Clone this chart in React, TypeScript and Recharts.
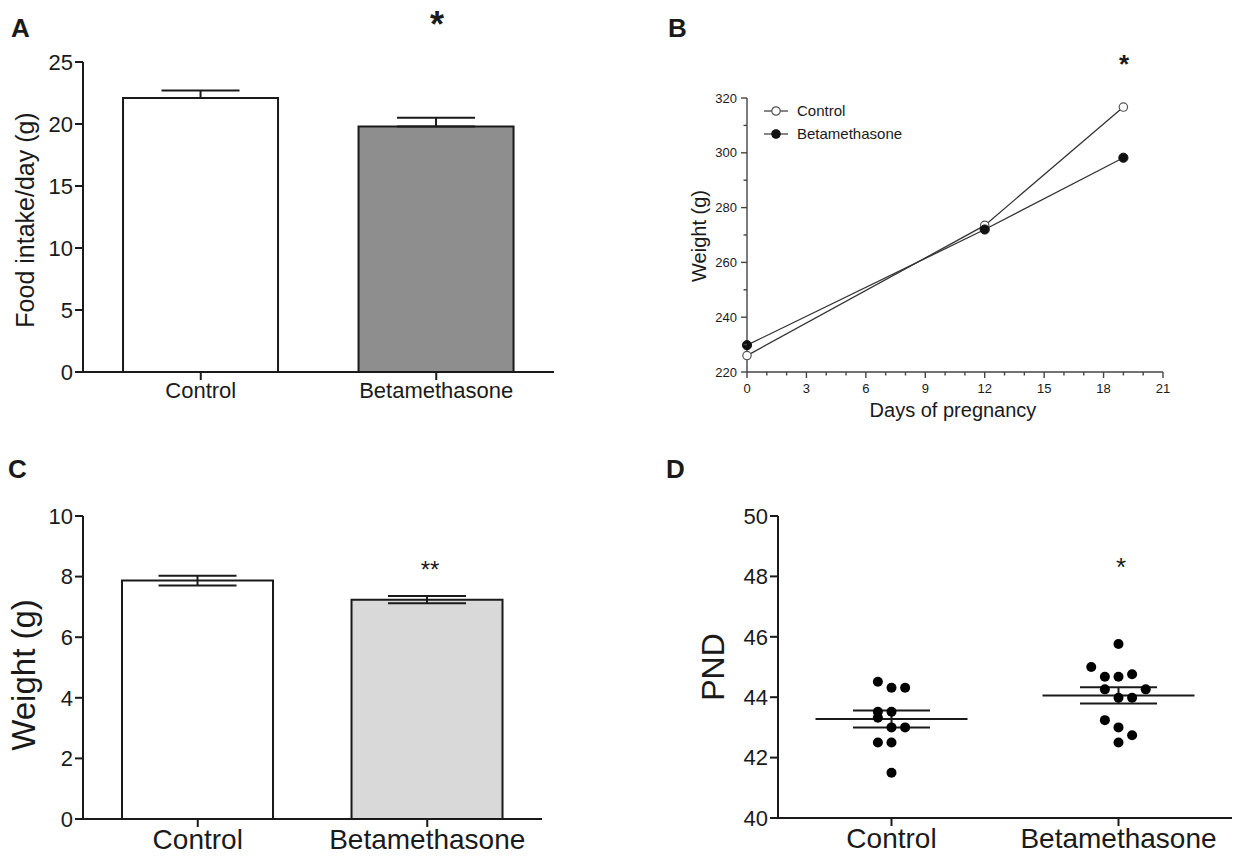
import React from 'react';
import {
  BarChart, Bar, Cell, XAxis, YAxis, ErrorBar,
  LineChart, Line, ScatterChart, Scatter, Legend,
} from 'recharts';

const FONT = '"Liberation Sans", Arial, Helvetica, sans-serif';
const INK = '#1a1a1a';

// ---------- shared ----------
const groups = ['Control', 'Betamethasone'];

// ---------- Panel A : food intake ----------
const foodMean = [22.1, 19.8];
const foodSem = [0.6, 0.7];
const foodFill = ['#ffffff', '#8e8e8e'];
const foodTicks = [0, 5, 10, 15, 20, 25];

// ---------- Panel B : maternal weight ----------
const days = [0, 12, 19];
const bodyControl = [226, 273.5, 316.7];
const bodyBeta = [229.8, 272, 298.2];
const dayTicks = [0, 1, 2, 3, 4, 5, 6, 7, 8, 9, 10, 11, 12, 13, 14, 15, 16, 17, 18, 19, 20, 21];
const dayLabels = [0, 3, 6, 9, 12, 15, 18, 21];
const bodyTicks = [220, 230, 240, 250, 260, 270, 280, 290, 300, 310, 320];
const bodyLabels = [220, 240, 260, 280, 300, 320];
const bSeries = [
  { key: 'control', name: 'Control', fill: '#ffffff', stroke: '#555555' },
  { key: 'beta', name: 'Betamethasone', fill: '#111111', stroke: '#111111' },
];

// ---------- Panel C : pup weight ----------
const pupMean = [7.87, 7.24];
const pupSem = [0.16, 0.12];
const pupFill = ['#ffffff', '#d9d9d9'];
const pupTicks = [0, 2, 4, 6, 8, 10];

// ---------- Panel D : PND ----------
const pndControl = [44.51, 44.31, 44.31, 43.52, 43.52, 43.32, 43.0, 43.0, 42.5, 42.5, 41.5];
const pndControlDx = [-0.06, 0, 0.06, -0.06, 0, -0.06, 0, 0.06, -0.06, 0, 0];
const pndBeta = [45.76, 45.0, 44.68, 44.68, 44.76, 44.26, 44.26, 43.98, 43.98, 43.24, 43.0, 42.74, 42.5];
const pndBetaDx = [0, -0.12, -0.06, 0, 0.06, -0.06, 0.12, 0, 0.06, -0.06, 0, 0.06, 0];
const pndMean = [43.28, 44.06];
const pndSem = [0.28, 0.27];
const pndTicks = [40, 42, 44, 46, 48, 50];

// ---------- derived tables ----------
const foodData = groups.map((g, i) => ({ name: g, value: foodMean[i], err: [0, foodSem[i]] }));
const bodyData = days.map((d, i) => ({ day: d, control: bodyControl[i], beta: bodyBeta[i] }));
const pupData = groups.map((g, i) => ({ name: g, value: pupMean[i], err: pupSem[i] }));
const pndControlData = pndControl.map((v, i) => ({ x: 1 + pndControlDx[i], y: v }));
const pndBetaData = pndBeta.map((v, i) => ({ x: 2 + pndBetaDx[i], y: v }));
const pndMeanData = pndMean.map((v, i) => ({ x: i + 1, y: v, err: pndSem[i] }));

const axisLine = { stroke: INK, strokeWidth: 2 };
const tickLine = { stroke: INK, strokeWidth: 2 };

const BTickX = (p: any) => {
  const v = p.payload.value;
  const major = dayLabels.includes(v);
  return (
    <g>
      <line x1={p.x} y1={p.y} x2={p.x} y2={p.y + (major ? 6 : 3.5)} stroke="#444" strokeWidth={1.4} />
      {major && (
        <text x={p.x} y={p.y + 21} textAnchor="middle" fontSize={13} fill={INK}>{v}</text>
      )}
    </g>
  );
};

const BTickY = (p: any) => {
  const v = p.payload.value;
  const major = bodyLabels.includes(v);
  return (
    <g>
      <line x1={p.x} y1={p.y} x2={p.x - (major ? 6 : 3.5)} y2={p.y} stroke="#444" strokeWidth={1.4} />
      {major && (
        <text x={p.x - 10} y={p.y + 4.5} textAnchor="end" fontSize={13} fill={INK}>{v}</text>
      )}
    </g>
  );
};

const LegendB = () => (
  <div style={{ fontFamily: FONT, fontSize: 15, color: INK }}>
    {bSeries.map((s) => (
      <div key={s.key} style={{ display: 'flex', alignItems: 'center', height: 23 }}>
        <svg width={24} height={12} style={{ display: 'block' }}>
          <line x1={0} y1={6} x2={24} y2={6} stroke="#444" strokeWidth={1.3} />
          <circle cx={12} cy={6} r={4.2} fill={s.fill} stroke={s.stroke} strokeWidth={1.2} />
        </svg>
        <span style={{ marginLeft: 9 }}>{s.name}</span>
      </div>
    ))}
  </div>
);

const Dot = (p: any) => <circle cx={p.cx} cy={p.cy} r={5} fill="#000" />;
const MeanLine = (p: any) => (
  <line x1={p.cx - 76} y1={p.cy} x2={p.cx + 76} y2={p.cy} stroke={INK} strokeWidth={2} />
);

const rotLabel = (x: number, y: number, size: number, text: string) => (
  <text
    transform={`translate(${x},${y}) rotate(-90)`}
    textAnchor="middle"
    dy="0.35em"
    fontSize={size}
    fill={INK}
  >
    {text}
  </text>
);

export default function App() {
  return (
    <div
      style={{
        position: 'absolute', left: 0, top: 0, width: 1234, height: 862,
        background: '#ffffff', fontFamily: FONT, overflow: 'hidden',
      }}
    >
      {/* Panel A */}
      <div style={{ position: 'absolute', left: 0, top: 0 }}>
        <BarChart width={570} height={430} data={foodData} barCategoryGap="17%"
          margin={{ top: 62, right: 16, bottom: 8, left: 0 }}>
          <XAxis dataKey="name" height={50} tickSize={8} interval={0}
            axisLine={axisLine} tickLine={tickLine} tick={{ fontSize: 22, fill: INK }} />
          <YAxis width={83} domain={[0, 25]} ticks={foodTicks} interval={0} tickSize={8}
            axisLine={axisLine} tickLine={tickLine} tick={{ fontSize: 22, fill: INK }} />
          <Bar dataKey="value" stroke={INK} strokeWidth={2} isAnimationActive={false}>
            {foodData.map((d, i) => <Cell key={d.name} fill={foodFill[i]} />)}
            <ErrorBar dataKey="err" direction="y" width={39} stroke={INK} strokeWidth={2} />
          </Bar>
        </BarChart>
      </div>

      {/* Panel B */}
      <div style={{ position: 'absolute', left: 640, top: 0 }}>
        <LineChart width={594} height={430} data={bodyData}
          margin={{ top: 98, right: 71, bottom: 8, left: 0 }}>
          <XAxis dataKey="day" type="number" domain={[0, 21]} ticks={dayTicks} interval={0}
            height={50} tickSize={0} tickMargin={0} tickLine={false}
            axisLine={{ stroke: '#444', strokeWidth: 1.4 }} tick={BTickX} />
          <YAxis type="number" domain={[220, 320]} ticks={bodyTicks} interval={0}
            width={107} tickSize={0} tickMargin={0} tickLine={false}
            axisLine={{ stroke: '#444', strokeWidth: 1.4 }} tick={BTickY} />
          <Legend layout="vertical" align="center" verticalAlign="middle"
            wrapperStyle={{ left: 124, top: 99, width: 'auto' }} content={LegendB} />
          <Line dataKey="control" name="Control" stroke="#333" strokeWidth={1.3}
            dot={{ r: 4.2, fill: '#ffffff', stroke: '#555', strokeWidth: 1.2 }}
            isAnimationActive={false} />
          <Line dataKey="beta" name="Betamethasone" stroke="#333" strokeWidth={1.3}
            dot={{ r: 4.6, fill: '#111', stroke: '#111', strokeWidth: 1 }}
            isAnimationActive={false} />
        </LineChart>
      </div>

      {/* Panel C */}
      <div style={{ position: 'absolute', left: 0, top: 430 }}>
        <BarChart width={560} height={432} data={pupData} barCategoryGap="17%"
          margin={{ top: 86, right: 18, bottom: 3, left: 0 }}>
          <XAxis dataKey="name" height={40} tickSize={8} interval={0}
            axisLine={axisLine} tickLine={tickLine} tick={{ fontSize: 28, fill: INK }} />
          <YAxis width={83} domain={[0, 10]} ticks={pupTicks} interval={0} tickSize={8}
            axisLine={axisLine} tickLine={tickLine} tick={{ fontSize: 22, fill: INK }} />
          <Bar dataKey="value" stroke={INK} strokeWidth={2} isAnimationActive={false}>
            {pupData.map((d, i) => <Cell key={d.name} fill={pupFill[i]} />)}
            <ErrorBar dataKey="err" direction="y" width={39} stroke={INK} strokeWidth={2} />
          </Bar>
        </BarChart>
      </div>

      {/* Panel D */}
      <div style={{ position: 'absolute', left: 640, top: 430 }}>
        <ScatterChart width={594} height={432} margin={{ top: 86, right: 2, bottom: 4, left: 0 }}>
          <XAxis type="number" dataKey="x" domain={[0.5, 2.5]} ticks={[1, 2]} interval={0}
            tickFormatter={(v: number) => groups[v - 1]} height={40} tickSize={8}
            axisLine={axisLine} tickLine={tickLine} tick={{ fontSize: 28, fill: INK }} />
          <YAxis type="number" dataKey="y" domain={[40, 50]} ticks={pndTicks} interval={0}
            width={138} tickSize={8} axisLine={axisLine} tickLine={tickLine}
            tick={{ fontSize: 22, fill: INK }} />
          <Scatter data={pndMeanData} shape={MeanLine} isAnimationActive={false}>
            <ErrorBar dataKey="err" direction="y" width={38.5} stroke={INK} strokeWidth={2} />
          </Scatter>
          <Scatter data={pndControlData} shape={Dot} isAnimationActive={false} />
          <Scatter data={pndBetaData} shape={Dot} isAnimationActive={false} />
        </ScatterChart>
      </div>

      {/* annotations */}
      <svg width={1234} height={862}
        style={{ position: 'absolute', left: 0, top: 0, pointerEvents: 'none' }}>
        <g fontFamily={FONT} fontWeight="bold" fontSize={26} fill={INK}>
          <text x={11} y={37}>A</text>
          <text x={668} y={37}>B</text>
          <text x={8} y={478}>C</text>
          <text x={666} y={478}>D</text>
        </g>
        <g fontFamily={FONT} fill={INK} textAnchor="middle">
          <text x={437} y={37} fontSize={36} fontWeight="bold">*</text>
          <text x={1124} y={73} fontSize={26} fontWeight="bold">*</text>
          <text x={430} y={578} fontSize={24}>**</text>
          <text x={1121} y={576} fontSize={26}>*</text>
        </g>
        <g fontFamily={FONT}>
          {rotLabel(25, 220, 25, 'Food intake/day (g)')}
          {rotLabel(699, 236, 20, 'Weight (g)')}
          {rotLabel(23, 675, 33, 'Weight (g)')}
          {rotLabel(713, 667, 32, 'PND')}
          <text x={953} y={417} textAnchor="middle" fontSize={20} fill={INK}>Days of pregnancy</text>
        </g>
      </svg>
    </div>
  );
}
